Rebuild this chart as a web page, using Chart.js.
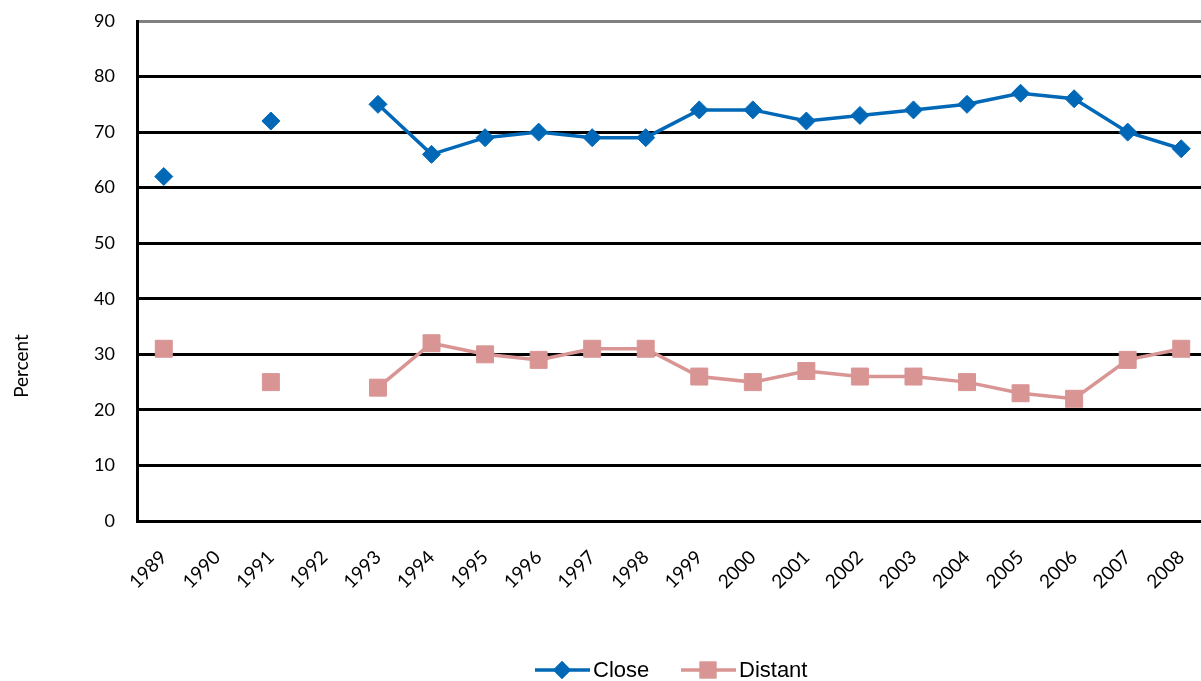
<!DOCTYPE html>
<html>
<head>
<meta charset="utf-8">
<title>Close / Distant</title>
<script src="https://cdn.jsdelivr.net/npm/chart.js@4.4.1/dist/chart.umd.min.js"></script>
<style>
  html, body { margin: 0; padding: 0; background: #fff; overflow: hidden; }
  #wrap { width: 1208px; height: 681px; }
</style>
</head>
<body>
<div id="wrap"><canvas id="grafico" width="1208" height="681"></canvas></div>
<script>
// === DATI ===
const anni = ['1989', '1990', '1991', '1992', '1993', '1994', '1995', '1996', '1997', '1998',
              '1999', '2000', '2001', '2002', '2003', '2004', '2005', '2006', '2007', '2008'];
const valoriClose = [62, null, 72, null, 75, 66, 69, 70, 69, 69, 74, 74, 72, 73, 74, 75, 77, 76, 70, 67];
const valoriDistant = [31, null, 25, null, 24, 32, 30, 29, 31, 31, 26, 25, 27, 26, 26, 25, 23, 22, 29, 31];
const tickY = [0, 10, 20, 30, 40, 50, 60, 70, 80, 90];

const BLU = '#0068b6';
const ROSA = '#d99594';
const fontAssi = 'Lato, "DejaVu Sans", sans-serif';

// === LEGENDA E TITOLO ASSE (disegnati a mano) ===
const extraPlugin = {
  id: 'extra',
  afterDraw(chart) {
    const ctx = chart.ctx;
    ctx.save();

    // titolo asse Y
    ctx.translate(22, 366);
    ctx.rotate(-Math.PI / 2);
    ctx.fillStyle = '#000';
    ctx.font = '19px ' + fontAssi;
    ctx.textAlign = 'center';
    ctx.textBaseline = 'middle';
    ctx.fillText('Percent', 0, 0);
    ctx.setTransform(1, 0, 0, 1, 0, 0);

    // voci di legenda: linea + marcatore + testo
    const voci = [
      { testo: 'Close', colore: BLU, stile: 'rectRot', r: 9, x: 535 },
      { testo: 'Distant', colore: ROSA, stile: 'rect', r: 12, x: 681 }
    ];
    const y = 670;
    voci.forEach(v => {
      ctx.strokeStyle = v.colore;
      ctx.lineWidth = 3.5;
      ctx.beginPath();
      ctx.moveTo(v.x, y);
      ctx.lineTo(v.x + 55, y);
      ctx.stroke();
      ctx.fillStyle = v.colore;
      Chart.helpers.drawPoint(ctx, { pointStyle: v.stile, radius: v.r, borderWidth: 0 }, v.x + 27, y);
      ctx.fill();
      ctx.fillStyle = '#000';
      ctx.font = '22px "Liberation Sans", Arial, sans-serif';
      ctx.textAlign = 'left';
      ctx.textBaseline = 'middle';
      ctx.fillText(v.testo, v.x + 58, y + 1);
    });
    ctx.restore();
  }
};

// === GRAFICO ===
new Chart(document.getElementById('grafico'), {
  type: 'line',
  data: {
    labels: anni,
    datasets: [
      {
        label: 'Close',
        data: valoriClose,
        borderColor: BLU,
        backgroundColor: BLU,
        borderWidth: 3.5,
        pointStyle: 'rectRot',
        pointRadius: 9,
        pointBorderWidth: 1,
        pointHoverRadius: 9,
        spanGaps: false,
        tension: 0
      },
      {
        label: 'Distant',
        data: valoriDistant,
        borderColor: ROSA,
        backgroundColor: ROSA,
        borderWidth: 3.5,
        pointStyle: 'rect',
        pointRadius: 12,
        pointBorderWidth: 1,
        pointHoverRadius: 12,
        spanGaps: false,
        tension: 0
      }
    ]
  },
  options: {
    responsive: false,
    animation: false,
    layout: { autoPadding: false, padding: { top: 21, right: 0, bottom: 0, left: 0 } },
    plugins: {
      legend: { display: false },
      tooltip: { enabled: false }
    },
    scales: {
      x: {
        offset: true,
        grid: { display: false },
        border: { display: false },
        ticks: {
          color: '#000',
          font: { family: fontAssi, size: 19 },
          minRotation: 45,
          maxRotation: 45,
          padding: 17,
          autoSkip: false
        },
        afterFit(scale) {
          scale.height = 160;
          scale.paddingLeft = 0;
          scale.paddingRight = 0;
        }
      },
      y: {
        min: 0,
        max: 90,
        afterBuildTicks(scale) { scale.ticks = tickY.map(v => ({ value: v })); },
        grid: {
          color: c => (c.tick && c.tick.value === 90) ? '#808080' : '#000',
          lineWidth: 3,
          drawTicks: false
        },
        border: { display: true, color: '#000', width: 3 },
        ticks: {
          color: '#000',
          font: { family: fontAssi, size: 18 },
          padding: 22
        },
        afterFit(scale) {
          scale.width = 137;
          scale.paddingTop = 0;
          scale.paddingBottom = 0;
        }
      }
    }
  },
  plugins: [extraPlugin]
});
</script>
</body>
</html>
